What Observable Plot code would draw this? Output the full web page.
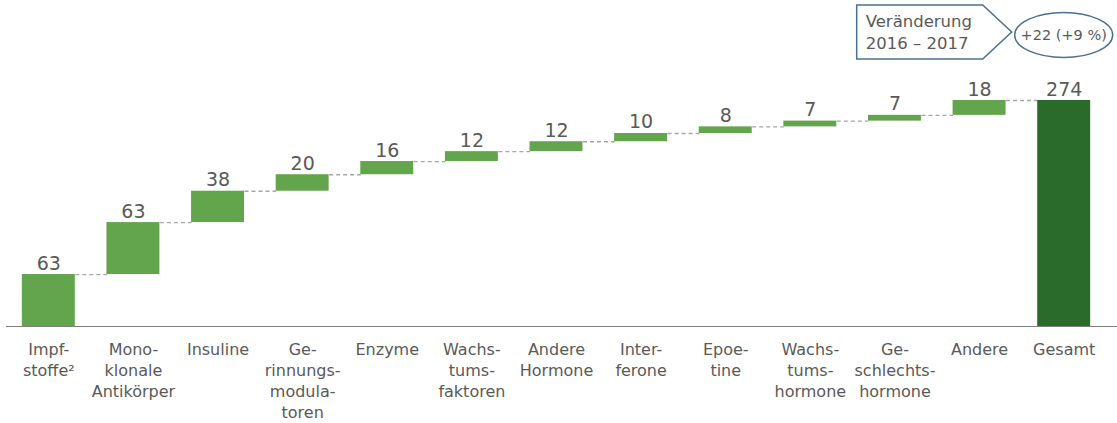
<!DOCTYPE html>
<html><head><meta charset="utf-8">
<script src="https://cdn.jsdelivr.net/npm/d3@7"></script>
<script src="https://cdn.jsdelivr.net/npm/@observablehq/plot@0.6"></script>
<style>
body{margin:0;background:#fff;}
#wrap{position:relative;width:1117px;height:423px;}
#overlay{position:absolute;left:0;top:0;pointer-events:none;}
</style></head>
<body><div id="wrap"></div>
<script>
const categories = ["Impf-\nstoffe²", "Mono-\nklonale\nAntikörper", "Insuline", "Ge-\nrinnungs-\nmodula-\ntoren", "Enzyme", "Wachs-\ntums-\nfaktoren", "Andere\nHormone", "Inter-\nferone", "Epoe-\ntine", "Wachs-\ntums-\nhormone", "Ge-\nschlechts-\nhormone", "Andere", "Gesamt"];
const values = [63, 63, 38, 20, 16, 12, 12, 10, 8, 7, 7, 18];
const total = 274;
const calloutLines = ["Veränderung", "2016 – 2017"];
const changeLabel = "+22 (+9 %)";

const light = "#63a54c", dark = "#2a6a2a", textColor = "#595959";
const hw = 0.313;

const rows = [];
let cum = 0;
values.forEach((v, i) => { rows.push({i, label: categories[i], y1: cum, y2: cum + v, value: v}); cum += v; });
const totalRow = {i: values.length, label: categories[values.length], y1: 0, y2: total, value: total};
const allRows = [...rows, totalRow];
const links = allRows.slice(0, -1).map((r, k) => ({x1: r.i + hw, x2: allRows[k + 1].i - hw, y: r.y2}));

const chart = Plot.plot({
  width: 1117, height: 423,
  marginLeft: 6, marginRight: 11, marginTop: 100, marginBottom: 97,
  x: {domain: [-0.5, categories.length - 0.5], axis: null},
  y: {domain: [0, total], axis: null},
  style: {fontFamily: "DejaVu Sans", background: "#fff"},
  marks: [
    Plot.ruleY([0], {stroke: "#808080", strokeWidth: 1.2, insetRight: -11}),
    Plot.link(links, {x1: "x1", x2: "x2", y1: "y", y2: "y", stroke: "#a6a6a6", strokeDasharray: "4,3", strokeWidth: 1.3}),
    Plot.rect(rows, {x1: d => d.i - hw, x2: d => d.i + hw, y1: "y1", y2: "y2", fill: light}),
    Plot.rect([totalRow], {x1: d => d.i - hw, x2: d => d.i + hw, y1: "y1", y2: "y2", fill: dark}),
    Plot.text(allRows, {x: "i", y: "y2", text: d => String(d.value), lineAnchor: "bottom", dy: -5, fontSize: 19, fill: textColor}),
    Plot.text(allRows, {x: "i", y: 0, text: "label", lineAnchor: "top", dy: 13, fontSize: 16, lineHeight: 1.33, fill: textColor})
  ]
});
const wrap = document.getElementById("wrap");
wrap.appendChild(chart);

// Callout annotation anchored to the "Gesamt" column
(function () {
  const xs = chart.scale("x");
  const cx = xs.apply(values.length);
  const svg = d3.select(wrap).append("svg").attr("id", "overlay").attr("width", 1117).attr("height", 70);
  const tip = cx - 52, y0 = 5, y1 = 59, ym = (y0 + y1) / 2;
  svg.append("polygon")
    .attr("points", [[tip - 155, y0], [tip - 29, y0], [tip, ym], [tip - 29, y1], [tip - 155, y1]].map(p => p.join(",")).join(" "))
    .attr("fill", "#fff").attr("stroke", "#4a7190").attr("stroke-width", 1.5);
  const t = svg.append("text").attr("font-family", "DejaVu Sans").attr("font-size", 16.5).attr("fill", textColor);
  calloutLines.forEach((s, k) => t.append("tspan").attr("x", tip - 146).attr("y", 27 + k * 22).text(s));
  svg.append("ellipse").attr("cx", cx).attr("cy", 35).attr("rx", 49).attr("ry", 22.5)
    .attr("fill", "#fff").attr("stroke", "#4a7190").attr("stroke-width", 1.5);
  svg.append("text").attr("x", cx).attr("y", 40).attr("text-anchor", "middle")
    .attr("font-family", "DejaVu Sans").attr("font-size", 14.5).attr("fill", textColor).text(changeLabel);
})();
</script></body></html>
